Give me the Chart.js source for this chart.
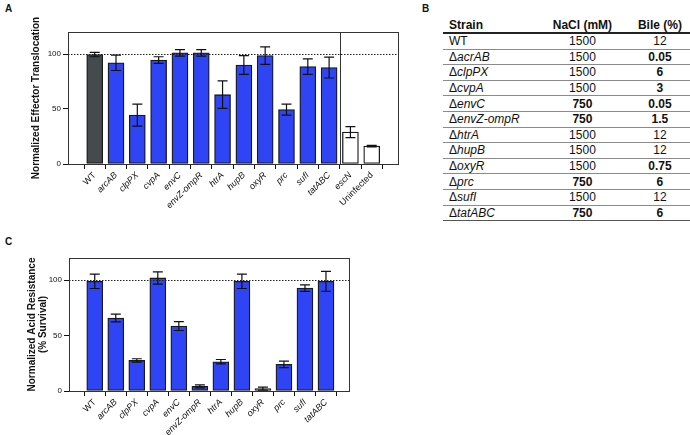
<!DOCTYPE html>
<html>
<head>
<meta charset="utf-8">
<script src="https://cdn.jsdelivr.net/npm/chart.js@4.4.1/dist/chart.umd.min.js"></script>
<style>
  body { margin: 0; background: #fff; width: 690px; height: 435px; position: relative; overflow: hidden;
         font-family: 'Liberation Sans', Arial, sans-serif; color: #111; }
  .tag { position: absolute; font-weight: bold; font-size: 10px; }
  #wrapA { position: absolute; left: 0; top: 0; width: 410px; height: 240px; }
  #wrapC { position: absolute; left: 0; top: 240px; width: 360px; height: 195px; }
  #tblB { position: absolute; left: 443px; top: 18px; border-collapse: collapse; font-size: 12px; }
  #tblB th { font-weight: bold; height: 14px; padding: 0; border-bottom: 2px solid #222; line-height: 14px; }
  #tblB td { height: 14.6px; padding: 0; border-bottom: 1px solid #8a8a8a; line-height: 14px; }
  #tblB tr:last-child td { border-bottom: 1px solid #555; }
  #tblB .c0 { width: 87px; text-align: left; padding-left: 6px; }
  #tblB .c1 { width: 96px; text-align: center; }
  #tblB .c2 { width: 61px; text-align: center; }
</style>
</head>
<body>
<div class="tag" style="left:5px;top:3px">A</div>
<div class="tag" style="left:422px;top:3px">B</div>
<div class="tag" style="left:5px;top:236px">C</div>
<div id="wrapA"><canvas id="chart-a"></canvas></div>
<div id="wrapC"><canvas id="chart-c"></canvas></div>
<table id="tblB"></table>

<script>
// ── Panel A: effector translocation ────────────────────────────────────────
const STRAINS_A = ["WT", "arcAB", "clpPX", "cvpA", "envC", "envZ-ompR", "htrA", "hupB",
                   "oxyR", "prc", "sufI", "tatABC", "escN", "Uninfected"];
const VALUES_A  = [99.5, 92, 44.5, 94.5, 101, 101, 63, 90, 98.5, 49.5, 88.5, 87.7, 29, 16.3];
const ERRORS_A  = [2, 7, 10, 3, 3, 3, 12.5, 8.5, 8, 5, 7, 9.5, 5, 0.7];

// ── Panel C: acid resistance ───────────────────────────────────────────────
const STRAINS_C = ["WT", "arcAB", "clpPX", "cvpA", "envC", "envZ-ompR", "htrA", "hupB",
                   "oxyR", "prc", "sufI", "tatABC"];
const VALUES_C  = [99, 65.8, 27.6, 102, 58.6, 4.2, 26.4, 99, 2.1, 24, 92.8, 99];
const ERRORS_C  = [6.5, 3.5, 1.5, 5.5, 4, 1.3, 2, 6.5, 1.4, 3, 3, 9];

const Y_TICKS = [0, 50, 100];

// ── Panel B: stress tolerance table ────────────────────────────────────────
const TABLE_HEAD    = ["Strain", "NaCl (mM)", "Bile (%)"];
const TABLE_STRAINS = ["WT", "acrAB", "clpPX", "cvpA", "envC", "envZ-ompR", "htrA", "hupB",
                       "oxyR", "prc", "sufI", "tatABC"];
const TABLE_NACL    = ["1500", "1500", "1500", "1500", "750", "750", "1500", "1500", "1500", "750", "1500", "750"];
const TABLE_BILE    = ["12", "0.05", "6", "3", "0.05", "1.5", "12", "12", "0.75", "6", "12", "6"];

// ── Colour tokens ──────────────────────────────────────────────────────────
const BLUE  = "#2f44f5";
const GREY  = "#454b4c";
const INK   = "#111";
const FONT  = "'Liberation Sans', Arial, Helvetica, sans-serif";

// panel A: WT dark grey, controls open; panel C: all blue
function colourA(label) {
  if (label === "WT") return GREY;
  if (label === "escN" || label === "Uninfected") return "#fff";
  return BLUE;
}
function colourC() { return BLUE; }

// frame, dotted 100% line, optional divider and error bars
const decorPlugin = {
  id: "decor",
  afterDatasetsDraw(chart, args, opts) {
    const { ctx, chartArea: a, scales: { x, y } } = chart;
    ctx.save();
    // dotted reference line
    ctx.strokeStyle = "#222";
    ctx.lineWidth = 1;
    ctx.setLineDash([1.5, 1.5]);
    const y100 = Math.round(y.getPixelForValue(100)) + 0.5;
    ctx.beginPath(); ctx.moveTo(a.left, y100); ctx.lineTo(a.right, y100); ctx.stroke();
    ctx.setLineDash([]);
    // error bars
    ctx.strokeStyle = INK;
    ctx.lineWidth = 1.2;
    opts.values.forEach((v, i) => {
      const e = opts.errors[i];
      const px = x.getPixelForValue(i);
      const top = y.getPixelForValue(v + e);
      const bot = y.getPixelForValue(Math.max(v - e, 0));
      ctx.beginPath();
      ctx.moveTo(px, top); ctx.lineTo(px, bot);
      ctx.moveTo(px - 5, top); ctx.lineTo(px + 5, top);
      ctx.moveTo(px - 5, bot); ctx.lineTo(px + 5, bot);
      ctx.stroke();
    });
    // divider between mutants and controls
    if (opts.divider != null) {
      const dx = Math.round(x.getPixelForValue(opts.divider)) + 0.5;
      ctx.strokeStyle = "#333";
      ctx.lineWidth = 1;
      ctx.beginPath(); ctx.moveTo(dx, a.top); ctx.lineTo(dx, a.bottom); ctx.stroke();
    }
    // box frame
    ctx.strokeStyle = "#333";
    ctx.lineWidth = 1;
    ctx.strokeRect(Math.round(a.left) + 0.5, Math.round(a.top) + 0.5,
                   Math.round(a.right - a.left), Math.round(a.bottom - a.top));
    ctx.restore();
  }
};

function renderBars(canvasId, cfg) {
  const labels = cfg.labels;
  new Chart(document.getElementById(canvasId), {
    type: "bar",
    data: {
      datasets: [{
        data: cfg.values.map((v, i) => ({ x: i, y: v })),
        backgroundColor: labels.map(cfg.colour),
        borderColor: "#1a1a1a",
        borderWidth: 1.3,
        borderSkipped: false,
        barThickness: 16,
      }],
    },
    plugins: [decorPlugin],
    options: {
      animation: false,
      responsive: true,
      maintainAspectRatio: false,
      layout: { padding: cfg.padding },
      plugins: {
        legend: { display: false },
        tooltip: { enabled: false },
        decor: { values: cfg.values, errors: cfg.errors, divider: cfg.divider },
      },
      scales: {
        x: {
          type: "linear",
          min: cfg.xMin,
          max: cfg.xMax,
          afterBuildTicks: (s) => { s.ticks = labels.map((_, i) => ({ value: i })); },
          afterFit: (s) => { s.height = cfg.xHeight; },
          grid: { drawOnChartArea: false, drawTicks: true, tickLength: 5, color: INK },
          border: { display: true, color: INK, width: 1 },
          ticks: {
            autoSkip: false,
            minRotation: 45,
            maxRotation: 45,
            padding: 1,
            color: INK,
            font: (c) => {
              const lab = labels[c.tick ? c.tick.value : 0];
              return { family: FONT, size: 9,
                       style: (lab === "WT" || lab === "Uninfected") ? "normal" : "italic" };
            },
            callback: (v) => labels[v],
          },
        },
        y: {
          min: 0,
          max: 120,
          afterBuildTicks: (s) => { s.ticks = Y_TICKS.map(v => ({ value: v })); },
          afterFit: (s) => { s.width = cfg.yWidth; },
          grid: { drawOnChartArea: false, drawTicks: true, tickLength: 5, color: INK },
          border: { display: true, color: INK, width: 1 },
          ticks: { color: INK, padding: 2, font: { family: FONT, size: 8 } },
          title: {
            display: true,
            text: cfg.title,
            color: INK,
            padding: { top: cfg.titlePad, bottom: 0 },
            font: { family: FONT, size: 10, weight: "bold", lineHeight: 1.15 },
          },
        },
      },
    },
  });
}

renderBars("chart-a", {
  labels: STRAINS_A, values: VALUES_A, errors: ERRORS_A, colour: colourA,
  xMin: -0.7, xMax: 13.68, divider: 11.5,
  padding: { left: 0, top: 32, right: 12, bottom: 0 },
  yWidth: 68, xHeight: 76, titlePad: 30,
  title: "Normalized Effector Translocation",
});

renderBars("chart-c", {
  labels: STRAINS_C, values: VALUES_C, errors: ERRORS_C, colour: colourC,
  xMin: -0.67, xMax: 11.54, divider: null,
  padding: { left: 0, top: 18, right: 11, bottom: 0 },
  yWidth: 69, xHeight: 44, titlePad: 26,
  title: ["Normalized Acid Resistance", "(% Survival)"],
});

// ── Table B ────────────────────────────────────────────────────────────────
(function buildTable() {
  const tbl = document.getElementById("tblB");
  let html = "<tr>" + TABLE_HEAD.map((h, i) => `<th class="c${i}">${h}</th>`).join("") + "</tr>";
  TABLE_STRAINS.forEach((s, i) => {
    const name = s === "WT" ? "WT" : "Δ<i>" + s + "</i>";
    const naclBold = TABLE_NACL[i] !== TABLE_NACL[0];
    const bileBold = TABLE_BILE[i] !== TABLE_BILE[0];
    html += `<tr><td class="c0">${name}</td>` +
            `<td class="c1"${naclBold ? ' style="font-weight:bold"' : ""}>${TABLE_NACL[i]}</td>` +
            `<td class="c2"${bileBold ? ' style="font-weight:bold"' : ""}>${TABLE_BILE[i]}</td></tr>`;
  });
  tbl.innerHTML = html;
})();
</script>
</body>
</html>
